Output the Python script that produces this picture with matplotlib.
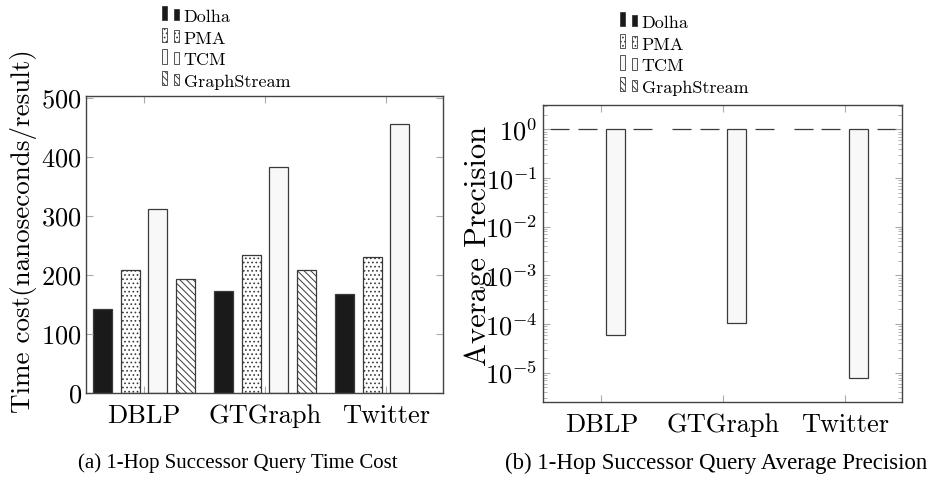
import numpy as np
import matplotlib
matplotlib.use("Agg")
import matplotlib.pyplot as plt
from matplotlib.legend_handler import HandlerBase
from matplotlib.patches import Rectangle
from matplotlib.ticker import LogLocator, NullFormatter

# ----- data -----
datasets = ["DBLP", "GTGraph", "Twitter"]
systems = ["Dolha", "PMA", "TCM", "GraphStream"]

# time cost per result (ns); GraphStream has no Twitter run
time_cost = {
    "Dolha":       [142, 173, 168],
    "PMA":         [208, 235, 230],
    "TCM":         [312, 384, 456],
    "GraphStream": [193, 208, np.nan],
}

# average precision (exact structures stay at 1)
precision = {
    "Dolha":       [1.0, 1.0, 1.0],
    "PMA":         [1.0, 1.0, 1.0],
    "TCM":         [6.0e-5, 1.07e-4, 8.0e-6],
    "GraphStream": [1.0, 1.0, 1.0],
}

# ----- styles -----
plt.rcParams["font.family"] = "cmr10"
plt.rcParams["mathtext.fontset"] = "cm"
plt.rcParams["axes.formatter.use_mathtext"] = True
plt.rcParams["hatch.linewidth"] = 0.7

EDGE = "#3a3a3a"
styles = {
    "Dolha":       dict(facecolor="#1a1a1a", hatch=None),
    "PMA":         dict(facecolor="white", hatch="...."),
    "TCM":         dict(facecolor="#f8f8f8", hatch=None),
    "GraphStream": dict(facecolor="white", hatch="\\\\\\\\\\"),
}

bar_w = 0.157
step = 0.227
offsets = (np.arange(len(systems)) - 1.5) * step
x = np.arange(len(datasets))


class PairedBarHandler(HandlerBase):
    """pgfplots-style ybar legend image: two little bars."""
    def create_artists(self, legend, orig_handle, xdescent, ydescent,
                       width, height, fontsize, trans):
        bw = 0.28 * fontsize
        y0 = 0.1 * fontsize
        arts = []
        for x0, hh in [(0.0, 0.78 * fontsize), (width - bw, 0.64 * fontsize)]:
            r = Rectangle((x0 - xdescent, y0), bw, hh,
                          facecolor=orig_handle.get_facecolor(),
                          edgecolor=EDGE, lw=0.6,
                          hatch=orig_handle.get_hatch(), transform=trans)
            arts.append(r)
        return arts


def style_axes(ax, ypad):
    for s in ax.spines.values():
        s.set_color("#444444")
        s.set_linewidth(1.0)
    ax.tick_params(which="both", direction="in", top=True, right=True,
                   color="#aaaaaa", labelsize=19)
    ax.tick_params(which="major", length=5)
    ax.tick_params(which="minor", length=3, width=0.6)
    ax.tick_params(axis="x", pad=8)
    ax.tick_params(axis="y", pad=ypad)
    ax.set_xticks(x)
    ax.set_xticklabels(datasets)
    ax.set_xlim(-0.48, 2.47)


fig = plt.figure(figsize=(9.36, 4.78), dpi=100)

# ----- (a) time cost -----
ax1 = fig.add_axes([0.0919, 0.1778, 0.3814, 0.6213])
handles = []
for i, name in enumerate(systems):
    b = ax1.bar(x + offsets[i], time_cost[name], width=bar_w,
                edgecolor=EDGE, linewidth=0.9, label=name, **styles[name])
    handles.append(b.patches[0])
ax1.set_ylim(0, 504)
ax1.set_yticks([0, 100, 200, 300, 400, 500])
style_axes(ax1, ypad=3)
ax1.set_ylabel("Time cost(nanoseconds/result)", fontsize=19.5)
ax1.yaxis.set_label_coords(-0.137, 0.545)

# ----- (b) average precision, bars hang from 1 on the log axis -----
ax2 = fig.add_axes([0.5801, 0.159, 0.3835, 0.6213])
for i, name in enumerate(systems):
    vals = np.array(precision[name])
    ax2.bar(x + offsets[i], vals - 1.0, bottom=1.0, width=bar_w,
            edgecolor=EDGE, linewidth=0.9, **styles[name])
ax2.set_yscale("log")
ax2.set_ylim(10 ** -5.6, 10 ** 0.5)
ax2.set_yticks([1e-5, 1e-4, 1e-3, 1e-2, 1e-1, 1e0])
ax2.yaxis.set_minor_locator(LogLocator(base=10, subs=np.arange(2, 10), numticks=20))
ax2.yaxis.set_minor_formatter(NullFormatter())
style_axes(ax2, ypad=4)
ax2.set_ylabel("Average Precision", fontsize=22)
ax2.yaxis.set_label_coords(-0.142, 0.525)

# ----- legends above each panel -----
leg_kw = dict(handler_map={Rectangle: PairedBarHandler()}, frameon=False,
              fontsize=13, loc="upper left", borderpad=0, borderaxespad=0,
              handlelength=0.95, handleheight=0.8, handletextpad=0.25,
              labelspacing=0.3)
fig.legend(handles, systems, bbox_to_anchor=(162 / 936, 1 - 9 / 478), **leg_kw)
fig.legend(handles, systems, bbox_to_anchor=(620 / 936, 1 - 15 / 478), **leg_kw)

# ----- captions -----
fig.text(238 / 936, 1 - 463 / 478, "(a) 1-Hop Successor Query Time Cost",
         family="Liberation Serif", fontsize=15, ha="center", va="center")
fig.text(716 / 936, 1 - 463 / 478, "(b) 1-Hop Successor Query Average Precision",
         family="Liberation Serif", fontsize=16.5, ha="center", va="center")

fig.savefig("out.png", dpi=100)
